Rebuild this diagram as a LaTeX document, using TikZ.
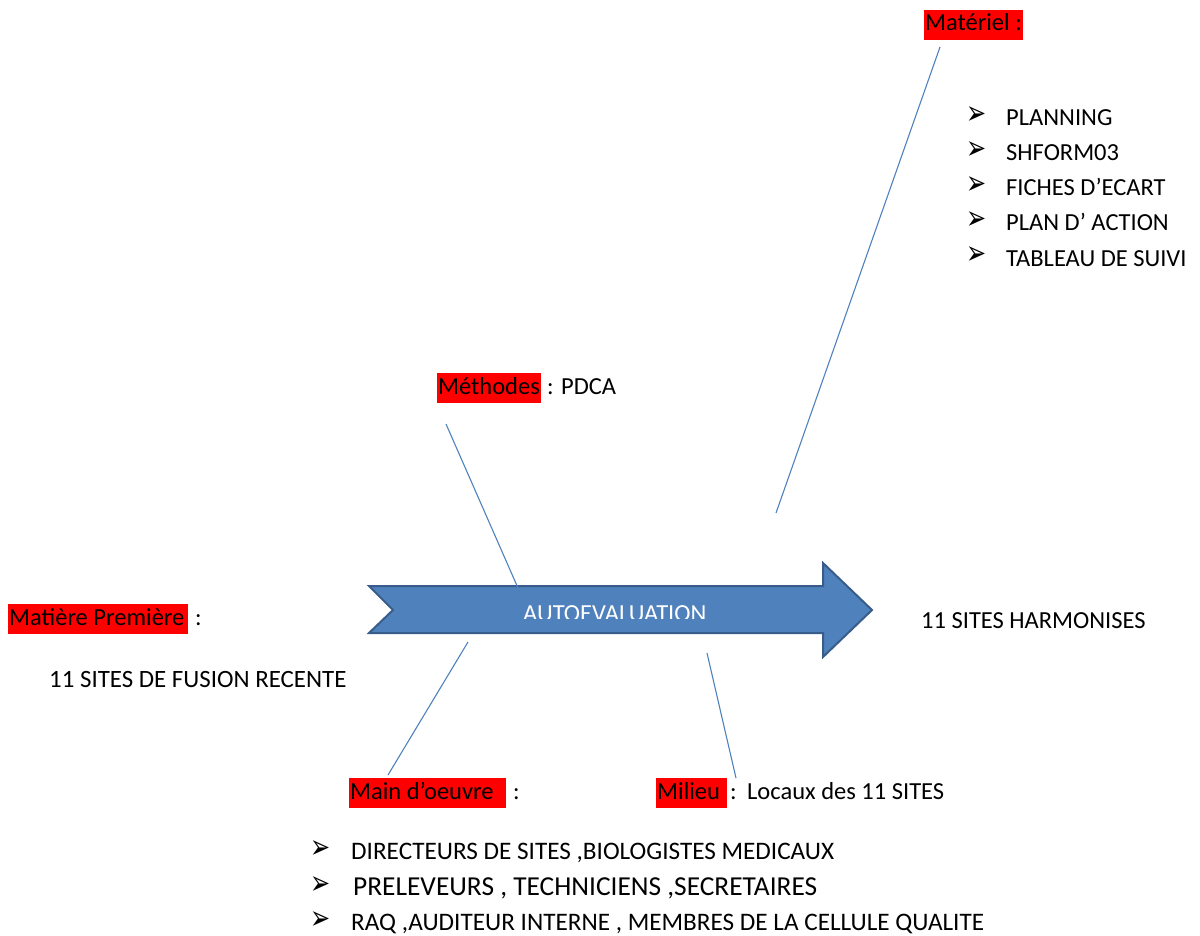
\documentclass[tikz,border=0pt]{standalone}
\usepackage{fontspec}
\usepackage{graphicx}
\setmainfont{Carlito}
\newfontfamily\symfont{DejaVu Sans}
\newcommand{\arrowbullet}{\scalebox{1}[1.4]{\symfont\bfseries ➢}}
\newcommand{\trail}[1]{\hspace{#1}\mbox{}}
\definecolor{arrowfill}{HTML}{4F81BD}
\definecolor{arrowedge}{HTML}{385D8A}
\definecolor{bonecol}{HTML}{4F81BD}
\begin{document}
\begin{tikzpicture}[x=1pt,y=-1pt,
  txt/.style={anchor=base west,inner sep=0pt,font=\fontsize{24.5}{29}\selectfont},
  bigtxt/.style={txt,font=\fontsize{25.2}{30}\selectfont},
  redlabel/.style={txt,fill=red,inner xsep=1pt,inner ysep=0pt,text height=21pt,text depth=9pt},
  bullet/.style={anchor=base west,inner sep=0pt,font=\fontsize{24}{26}\selectfont},
  bone/.style={draw=bonecol,line width=1.1pt}]
\useasboundingbox (0,0) rectangle (1200,936);

% main arrow
\filldraw[fill=arrowfill,draw=arrowedge,line width=2pt,line join=miter]
  (369,586) -- (823,586) -- (823,563) -- (872,610) -- (823,657) -- (823,633)
  -- (369,633) -- (393,610) -- cycle;
\begin{scope}
  \clip (380,590) rectangle (820,618.5);
  \node[txt,text=white] (auto) at (523,621) {AUTOEVALUATION};
\end{scope}

% effect
\node[txt] (effect) at (921,628) {11 SITES HARMONISES};

% Matériel
\node[redlabel] (mat) at (924,31) {Matériel :};
\foreach \y/\t [count=\i] in {126/PLANNING,161/SHFORM03,196/FICHES D’ECART,231/PLAN D’ ACTION,266/TABLEAU DE SUIVI}{
  \node[bullet] (matb\i) at (966,\y-1) {\arrowbullet};
  \node[txt] (matt\i) at (1006,\y) {\t};
}
\coordinate (matA) at (940,47);
\coordinate (matB) at (776,513);
\draw[bone] (matA) -- (matB);

% Méthodes
\node[redlabel] (meth) at (437,394) {Méthodes};
\node[txt] (methv) at (547,394) {: PDCA};
\coordinate (methA) at (446,424);
\coordinate (methB) at (518,588);
\draw[bone] (methA) -- (methB);

% Matière Première
\node[redlabel] (mp) at (8,625) {Matière Première\trail{3pt}};
\node[txt] (mpc) at (195,625) {:};
\node[txt,font=\fontsize{24.9}{30}\selectfont] (mpv) at (49,687) {11 SITES DE FUSION RECENTE};

% Main d'oeuvre
\node[redlabel] (mo) at (349,799) {Main d’oeuvre\trail{11pt}};
\node[txt] (moc) at (513,799) {:};
\coordinate (moA) at (468,642);
\coordinate (moB) at (388,775);
\draw[bone] (moA) -- (moB);
\node[bullet] (mob1) at (310,858) {\arrowbullet};
\node[bigtxt] (mot1) at (351,859) {DIRECTEURS DE SITES ,BIOLOGISTES MEDICAUX};
\node[bullet] (mob2) at (310,894) {\arrowbullet};
\node[txt,font=\fontsize{27.4}{32}\selectfont] (mot2) at (353,895) {PRELEVEURS , TECHNICIENS ,SECRETAIRES};
\node[bullet] (mob3) at (310,929) {\arrowbullet};
\node[bigtxt] (mot3) at (351,930) {RAQ ,AUDITEUR INTERNE , MEMBRES DE LA CELLULE QUALITE};

% Milieu
\node[redlabel] (mil) at (656,799) {Milieu\trail{6pt}};
\node[txt] (milc) at (730,799) {:};
\node[txt] (milv) at (747,799) {Locaux des 11 SITES};
\coordinate (milA) at (707,653);
\coordinate (milB) at (736,778);
\draw[bone] (milA) -- (milB);
\end{tikzpicture}
\end{document}
